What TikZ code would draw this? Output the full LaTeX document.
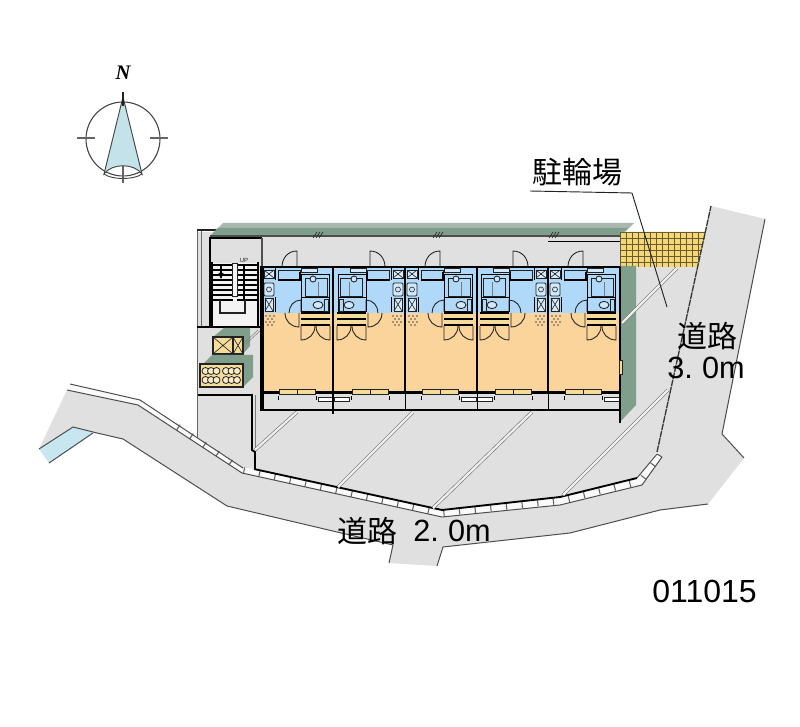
\documentclass[tikz,border=0pt]{standalone}
\usepackage{fontspec}
\setmainfont{Liberation Sans}
\newfontfamily\cjk{Noto Sans CJK JP}
\definecolor{ground}{HTML}{E0E0E0}
\definecolor{bluefl}{HTML}{B0D8F8}
\definecolor{orangefl}{HTML}{FBD49C}
\definecolor{wallgreen}{HTML}{7F9F8C}
\definecolor{bandgray}{HTML}{A9B8AE}
\definecolor{water}{HTML}{C8E6F0}
\definecolor{needle}{HTML}{C4E2EA}
\definecolor{tan}{HTML}{F5DC9A}
\definecolor{hatchy}{HTML}{F4D878}
\definecolor{gridbrown}{HTML}{6A5A30}
\definecolor{ink}{HTML}{222222}
\tikzset{
  thin line/.style={draw=ink,line width=0.65pt},
  fine line/.style={draw=ink,line width=0.45pt},
  edge line/.style={draw=ink!80,line width=0.75pt,line join=round},
  wall/.style={draw=black,line width=2.2pt},
  drive/.style={draw=ink!65,line width=0.45pt,double=white!50!ground,double distance=1.7pt},
  labeltext/.style={font=\cjk\fontsize{22.5}{24}\selectfont,inner sep=0pt,text=black},
  digits/.style={font=\fontsize{23}{24}\selectfont,inner sep=0pt,text=black},
}
\newcommand{\xicon}[4]{%
  \draw[fine line,fill=white!50!bluefl] (#1,#2) rectangle (#3,#4);
  \draw[fine line] (#1,#2) -- (#3,#4) (#1,#4) -- (#3,#2);}
\newcommand{\unitplan}{%
  \fill[bluefl] (0,268) rectangle (71.5,313);
  \fill[orangefl] (0,313) rectangle (71.5,392);
  % closet
  \xicon{2}{270}{12}{278}
  \draw[thin line,fill=white!40!bluefl,rounded corners=1pt] (2,283) rectangle (12,296);
  \draw[fine line] (7,289.5) circle[radius=2.5];
  \xicon{3}{298}{11}{311}
  \draw[draw=black,line width=1pt] (13.5,268) -- (13.5,280) (13.5,297) -- (13.5,312);
  % floor dots
  \foreach \a/\b in {4/316,8/316,12/316,6/319,10/319,4/322,8/322,12/322,6/325,10/325}
    \fill[ink!80] (\a,\b) circle[radius=0.9];
  % entry door
  \draw[thin line] (35,267) -- (35,251) .. controls (26,251) and (20,258) .. (20,267);
  \draw[thin line] (16,270) rectangle (38,280);
  \draw[draw=black,line width=0.8pt] (16,280) -- (38,280) -- (38,272);
  % bath
  \draw[draw=black,line width=0.75pt] (39,275) rectangle (67,298);
  \draw[thin line] (43,278) rectangle (65,296);
  \draw[thin line,fill=white!40!bluefl] (51,279) circle[radius=3];
  \draw[draw=ink!60,line width=0.7pt] (56,282) -- (56,296);
  \draw[thin line,fill=white!40!bluefl] (39,268) rectangle (55,272);
  \draw[draw=black,line width=0.75pt] (39,298) rectangle (67,312);
  \draw[thin line,fill=white!40!bluefl] (56,305) ellipse (5 and 3.6);
  \draw[thin line] (62,299) rectangle (66,311);
  % inner doors
  \draw[thin line] (39,312) -- (39,300) .. controls (32,300) and (27,306) .. (27,313);
  \draw[thin line] (37,313) -- (37,327) .. controls (29,327) and (23,321) .. (23,313);
  % kitchen
  \fill[tan] (39,313) rectangle (68,326);
  \draw[draw=black,line width=1.1pt] (39,319) -- (68,319) (39,325) -- (68,325);
  \draw[draw=black,line width=0.9pt] (39,313) -- (68,313);
  % double doors
  \draw[thin line] (39,326) -- (39,340) .. controls (47,340) and (53,334) .. (53,326);
  \draw[thin line] (68,326) -- (68,340) .. controls (60,340) and (54,334) .. (54,326);
  % balcony fittings
  \draw[draw=black,line width=0.6pt] (16,396) -- (16,400) (54,396) -- (54,400);
  \draw[thin line,fill=white] (56,397) rectangle (71,401);
}
\newcommand{\unitwindow}{%
  \draw[thin line,fill=tan] (17,389.5) rectangle (53,394);
  \draw[thin line] (35,389.5) -- (35,394);
}
\begin{document}
\begin{tikzpicture}[x=0.75pt,y=-0.75pt]
\useasboundingbox (0,0) rectangle (800,727);
\fill[white] (0,0) rectangle (800,727);
% ground + road
\fill[ground] (197,232) -- (706,232) -- (657,452) -- (637,478) -- (560,497) -- (442,510) -- (254,469) -- (243,468) -- (197,438) -- cycle;
\fill[ground] (67,390) -- (138,405) -- (242,473) -- (442,517) -- (560,505) -- (642,485) -- (662,457) -- (657,452) -- (711,206) -- (765,219) -- (722,434) -- (744,458) -- (708,504) -- (660,510) -- (570,533) -- (443,547) -- (437,566) -- (389,563) -- (393,545) -- (337,532) -- (227,506) -- (123,439) -- (97,433) -- (73,427) -- (39,449) -- cycle;
% water
\fill[water] (73,427) -- (39,449) -- (49,463) -- (93,433) -- cycle;
\draw[edge line] (39,449) -- (73,427) -- (97,433) -- (123,439) -- (227,506) -- (337,532) -- (393,545) -- (389,563);
\draw[edge line] (49,463) -- (93,433);
\draw[edge line] (437,566) -- (443,547) -- (570,533) -- (660,510) -- (708,504);
\draw[edge line] (744,458) -- (722,434) -- (765,219);
% curb
\fill[white!85!ground] (70,384) -- (140,400) -- (243,468) -- (254,469) -- (442,510) -- (560,497) -- (637,478) -- (657,454) -- (662,457) -- (642,485) -- (560,505) -- (442,517) -- (242,473) -- (138,405) -- (67,390) -- cycle;
\draw[draw=ink!70,line width=4.6pt,dash pattern=on 0.8pt off 11pt] (178,427) -- (242,470) -- (442,513.5) -- (560,501) -- (640,481.5) -- (660,455.5);
\draw[edge line] (70,384) -- (140,400) -- (243,468);
\draw[draw=black,line width=1.4pt,line join=round] (254,469) -- (442,510) -- (560,497) -- (637,478);
\draw[edge line] (637,478) -- (657,454);
\draw[edge line] (67,390) -- (138,405) -- (242,473) -- (442,517) -- (560,505) -- (642,485) -- (662,457) -- (657,454);
% outer walls of the site
\fill[ground] (201,232) rectangle (252,396);
\draw[draw=ink!70,line width=0.7pt] (197,231) -- (197,438) (201,231) -- (201,327);
\draw[draw=ink,line width=1pt] (197,230) -- (222,230);
\draw[draw=black,line width=1.4pt] (198,395) -- (252,395) -- (252,450) -- (255,452) -- (255,469);
\draw[draw=ink!60,line width=0.6pt] (255,395) -- (255,450);
% north band
\fill[bandgray] (223,223) -- (634,223) -- (620,237) -- (209,237) -- cycle;
\fill[wallgreen] (218,228) -- (628,228) -- (620,235) -- (211,235) -- cycle;
\draw[draw=ink!80,line width=1pt] (210,236) -- (620,236);
\fill[ground] (210,237) rectangle (620,266);
\draw[draw=black,line width=1pt] (548,241.5) -- (620,241.5);
\foreach \x in {317,437,553}
  \draw[draw=ink,line width=0.45pt] (\x-4,238) -- (\x,232) (\x-1,238) -- (\x+3,232) (\x+2,238) -- (\x+6,232);
% bicycle parking
\fill[hatchy] (620,232) -- (706,232) -- (697,267) -- (620,267) -- cycle;
\begin{scope}
\clip (620,232) -- (706,232) -- (697,267) -- (620,267) -- cycle;
\foreach \x in {620,626,...,710} \draw[draw=gridbrown,line width=0.7pt] (\x,232) -- (\x,267);
\foreach \y in {232,238,...,268} \draw[draw=gridbrown,line width=0.7pt] (620,\y) -- (706,\y);
\end{scope}
% east road line, over the parking
\draw[draw=ink!90,line width=1pt,dash pattern=on 5pt off 0.6pt] (657,452) -- (711,206);
% east green wall
\fill[wallgreen] (621,266) -- (636,266) -- (636,405) -- (620,422) -- cycle;
% stairs
\draw[draw=black,line width=1pt] (210,327) -- (210,238) -- (262,238);
\draw[draw=ink!80,line width=0.8pt] (262,238) -- (262,266);
\draw[draw=black,line width=1pt] (197,327) -- (262,327);
\fill[white!60!ground] (213,263) rectangle (258,326);
\draw[draw=black,line width=1.1pt] (212,262) -- (212,327) (258,262) -- (258,327);
\foreach \y in {265,270,...,300}
  \draw[draw=black,line width=0.85pt] (213,\y) -- (233,\y) (237,\y) -- (257,\y);
\draw[draw=ink,line width=0.7pt,fill=white!60!ground] (232,263) rectangle (237,296);
\draw[draw=ink,line width=0.8pt] (220,300) -- (220,313) -- (245,313) -- (245,300);
\draw[draw=black,line width=0.8pt] (221,265) -- (221,278);
\fill[black] (218.5,273) -- (223.5,273) -- (221,279) -- cycle;
\draw[draw=black,line width=0.8pt] (244,264) -- (244,300);
\node[inner sep=0pt,font=\fontsize{4.5}{5}\selectfont,text=ink] (uplabel) at (244,260) {UP};
% bin boxes
\fill[wallgreen] (213,337) -- (224,328) -- (250,328) -- (250,346) -- (243,354) -- cycle;
\draw[draw=ink!60,line width=0.35pt] (243,344) -- (258,330) (246,344) -- (261,330);
\draw[thin line,fill=tan,line width=0.8pt] (213,337) rectangle (233,354);
\draw[thin line,fill=tan,line width=0.8pt] (233,337) rectangle (243,354);
\draw[fine line] (213,337) -- (233,354) (213,354) -- (233,337) (233,337) -- (243,354) (233,354) -- (243,337);
\fill[wallgreen] (203,364) -- (212,355) -- (253,355) -- (253,377) -- (243,387) -- cycle;
\draw[thin line,fill=tan,line width=0.8pt] (200,364) rectangle (243,387);
\foreach \cx in {205.5,211,216.5,226,231.5,237}
  \foreach \cy in {371,380}
    \draw[fine line,line width=0.6pt,fill=white!45!tan] (\cx,\cy) circle[radius=3.5];
% units
\begin{scope}[shift={(262,0)}]\unitplan\end{scope}
\begin{scope}[shift={(405,0)},xscale=-1]\unitplan\end{scope}
\begin{scope}[shift={(405,0)}]\unitplan\end{scope}
\begin{scope}[shift={(548,0)},xscale=-1]\unitplan\end{scope}
\begin{scope}[shift={(548,0)}]\unitplan\end{scope}
% building walls
\draw[draw=black,line width=2.8pt] (262,266) -- (262,411);
\draw[wall,line width=1.8pt] (261,267) -- (620,267);
\draw[wall,line width=1.6pt] (262,392.5) -- (620,392.5);
\draw[wall,line width=1.6pt] (261,410) -- (620,410);
\draw[wall,line width=2.2pt] (620,267) -- (620,423);
\draw[wall] (333,267) -- (333,393) (405,267) -- (405,393) (477,267) -- (477,393);
\draw[wall] (548,267) -- (548,313);
\draw[wall,line width=1pt] (548,313) -- (548,393);
\draw[draw=black,line width=1pt] (333,393) -- (333,414);
\draw[draw=black,line width=0.7pt] (405,393) -- (405,410) (477,393) -- (477,410) (548,393) -- (548,410);
\begin{scope}[shift={(262,0)}]\unitwindow\end{scope}
\begin{scope}[shift={(405,0)},xscale=-1]\unitwindow\end{scope}
\begin{scope}[shift={(405,0)}]\unitwindow\end{scope}
\begin{scope}[shift={(548,0)},xscale=-1]\unitwindow\end{scope}
\begin{scope}[shift={(548,0)}]\unitwindow\end{scope}
% window on east wall
\draw[fine line,fill=tan] (619,360) rectangle (622,374);
% parking dividers
\draw[drive] (297,412) -- (255,450);
\draw[drive] (413,412) -- (338,487);
\draw[drive] (532,412) -- (433,508);
\draw[drive] (668,390) -- (563,495);
\draw[drive] (677,268) -- (622,323);
% leader
\coordinate (leadA) at (530,191);
\coordinate (leadB) at (632,193);
\coordinate (leadC) at (667,307);
\draw[draw=ink,line width=0.7pt] (leadA) -- (leadB) -- (leadC);
% compass
\draw[draw=ink!85,line width=0.8pt] (123,139) circle[radius=37];
\draw[draw=ink!70,line width=0.8pt] (77,138) -- (95,138) (150,138) -- (168,138) (123,165) -- (123,183);
\draw[draw=ink!85,line width=0.7pt] (104,174) .. controls (112,180) and (134,180) .. (142,174);
\draw[draw=ink!85,line width=0.7pt,fill=needle] (123,97) -- (142,174) .. controls (134,163) and (112,163) .. (104,174) -- cycle;
\draw[draw=ink,line width=1.4pt] (123,92) -- (123,106);
\node[inner sep=0pt,text=black,font=\fontspec{Liberation Serif}\bfseries\itshape\fontsize{15.5}{16}\selectfont] (north) at (123,73) {N};
% labels
\node[labeltext] (bikes) at (577.5,172) {駐輪場};
\node[labeltext] (roadE) at (707,336) {道路};
\node[digits,anchor=west] (widthE) at (667,368) {3.\kern7pt 0m};
\node[labeltext,anchor=west] (roadS) at (337,531) {道路};
\node[digits,anchor=west] (widthS) at (413,531) {2.\kern7pt 0m};
\node[digits,anchor=east,font=\fontsize{24}{26}\selectfont] (code) at (757,591) {011015};
\end{tikzpicture}
\end{document}
